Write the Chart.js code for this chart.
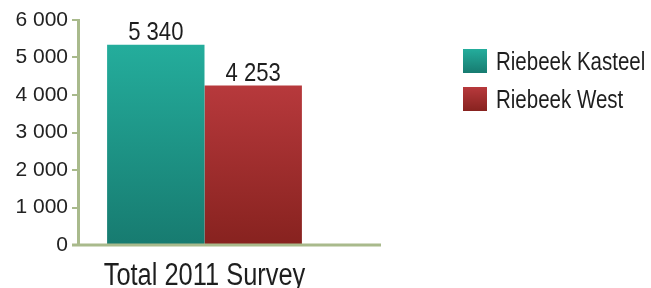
<!DOCTYPE html>
<html>
<head>
<meta charset="utf-8">
<script src="https://cdn.jsdelivr.net/npm/chart.js@4"></script>
<style>
  body { margin: 0; background: #fff; }
  .chart-container { position: relative; width: 651px; height: 288px; overflow: hidden; }
  .chart-legend { position: absolute; left: 463px; top: 49px; font-family: 'Liberation Sans', Arial, sans-serif; font-size: 25px; color: #1e1e1e; }
  .key-container { display: flex; align-items: center; height: 24px; margin-bottom: 14px; white-space: nowrap; }
  .key-color-box { width: 24px; height: 24px; margin-right: 9px; flex: none; }
  .key { transform: scaleX(0.82); transform-origin: left center; }
</style>
</head>
<body>
<div class="chart-container">
  <canvas id="chart-1" width="651" height="288"></canvas>
  <div class="chart-legend"></div>
</div>
<script>
const categories = ['Total 2011 Survey'];
const seriesNames = ['Riebeek Kasteel', 'Riebeek West'];
const kasteelValues = [5340];
const westValues = [4253];
const yTicks = [0, 1000, 2000, 3000, 4000, 5000, 6000];

// top / bottom colours of each bar gradient
const barColors = [
  ['#24ad9c', '#177b70'],
  ['#b7393c', '#87221f'],
];
const axisColor = '#a9ba8c';
const labelFont = "'Liberation Sans', Arial, sans-serif";

const formatNumber = (n) => String(n).replace(/\B(?=(\d{3})+(?!\d))/g, ' ');

const chartLegend = document.querySelector('.chart-legend');
seriesNames.forEach((name, i) => {
  const key = document.createElement('div');
  key.innerHTML = `<div class="key-container"><div class="key-color-box" style="background: linear-gradient(${barColors[i][0]}, ${barColors[i][1]})"></div><div class="key">${name}</div></div>`;
  chartLegend.append(key);
});

const barGradient = (index) => (context) => {
  const chart = context.chart;
  if (!chart.chartArea || context.raw == null) return barColors[index][0];
  const y = chart.scales.y;
  const top = y.getPixelForValue(context.raw);
  const bottom = y.getPixelForValue(0);
  const g = chart.ctx.createLinearGradient(0, top, 0, bottom);
  g.addColorStop(0, barColors[index][0]);
  g.addColorStop(1, barColors[index][1]);
  return g;
};

// squeezed text, to look like the condensed face of the original
const drawNarrow = (ctx, text, x, y, size, squeeze) => {
  ctx.save();
  ctx.font = `${size}px ${labelFont}`;
  ctx.textAlign = 'center';
  ctx.textBaseline = 'alphabetic';
  ctx.translate(x, y);
  ctx.scale(squeeze, 1);
  ctx.fillText(text, 0, 0);
  ctx.restore();
};

// value labels, category label and the long x axis line
const extrasPlugin = {
  id: 'extras',
  afterDatasetsDraw(chart) {
    const ctx = chart.ctx;
    const area = chart.chartArea;
    ctx.save();
    ctx.strokeStyle = axisColor;
    ctx.lineWidth = 3;
    ctx.beginPath();
    ctx.moveTo(area.left - 6, area.bottom);
    ctx.lineTo(381, area.bottom);
    ctx.stroke();
    ctx.fillStyle = '#1e1e1e';

    chart.data.datasets.forEach((ds, i) => {
      chart.getDatasetMeta(i).data.forEach((bar, j) => {
        drawNarrow(ctx, formatNumber(ds.data[j]), bar.x, bar.y - 5, 26, 0.85);
      });
    });

    const x = chart.scales.x;
    chart.data.labels.forEach((label, i) => {
      drawNarrow(ctx, label, x.getPixelForTick(i), area.bottom + 40, 31, 0.82);
    });
    ctx.restore();
  },
};

new Chart(document.getElementById('chart-1'), {
  type: 'bar',
  data: {
    labels: categories,
    datasets: [
      { label: seriesNames[0], data: kasteelValues, backgroundColor: barGradient(0) },
      { label: seriesNames[1], data: westValues, backgroundColor: barGradient(1) },
    ],
  },
  options: {
    responsive: false,
    animation: false,
    layout: { padding: { top: 20, right: 320, left: 0, bottom: 0 } },
    datasets: { bar: { categoryPercentage: 0.77, barPercentage: 1, borderWidth: 0 } },
    plugins: { legend: { display: false }, tooltip: { enabled: false } },
    scales: {
      x: {
        grid: { display: false },
        border: { display: false },
        ticks: { display: false },
        afterFit: (scale) => { scale.height = 43; },
      },
      y: {
        min: 0,
        max: 6000,
        afterBuildTicks: (scale) => { scale.ticks = yTicks.map((v) => ({ value: v })); },
        grid: { drawOnChartArea: false, color: axisColor, lineWidth: 2, tickLength: 6 },
        border: { color: axisColor, width: 3 },
        ticks: {
          color: '#222',
          padding: 4,
          font: { family: labelFont, size: 21 },
          callback: (v) => formatNumber(v),
        },
        afterFit: (scale) => { scale.width = 78; },
      },
    },
  },
  plugins: [extrasPlugin],
});
</script>
</body>
</html>
